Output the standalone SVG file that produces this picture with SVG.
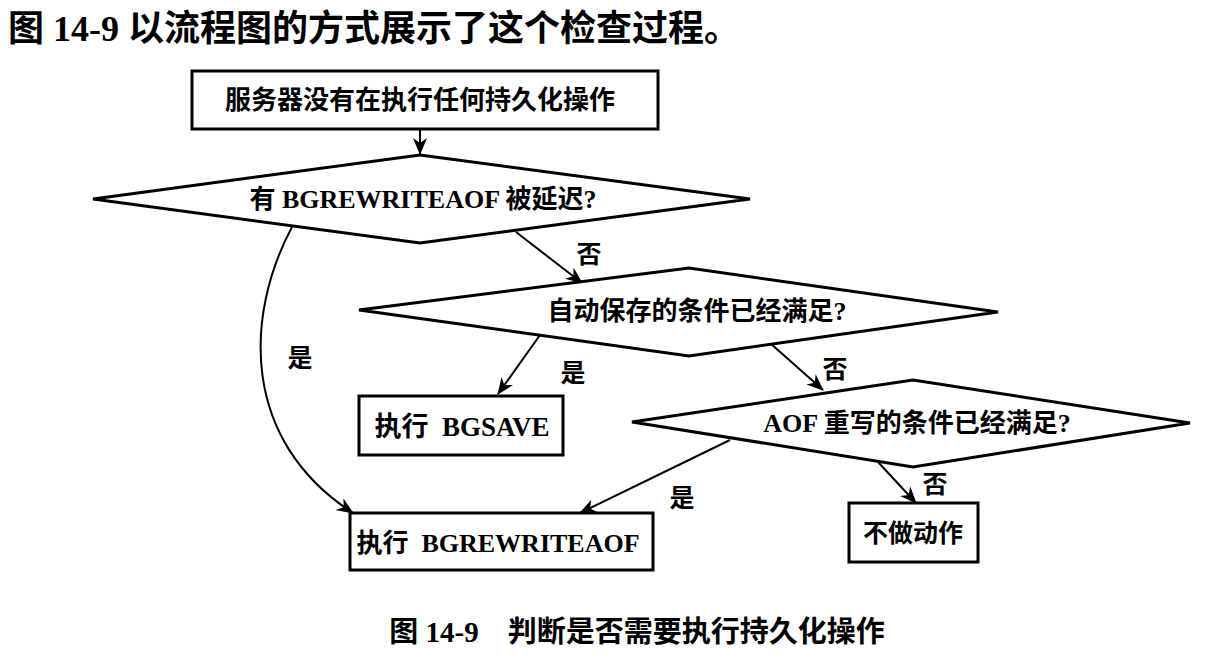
<svg xmlns="http://www.w3.org/2000/svg" width="1216" height="669" viewBox="0 0 1216 669">
<style>
.t{font-family:"Liberation Serif","Noto Sans CJK SC",serif;font-weight:bold;fill:#000;}
.box{fill:#fff;stroke:#000;stroke-width:3;}
.dia{fill:#fff;stroke:#000;stroke-width:3;stroke-linejoin:miter;}
.c{fill:none;stroke:#000;stroke-width:2;}
</style>
<defs>
<marker id="ah" markerUnits="userSpaceOnUse" markerWidth="18" markerHeight="14" refX="16" refY="7" orient="auto">
<path d="M0,0 L17,7 L0,14 L5,7 z" fill="#000"/>
</marker>
</defs>
<rect width="1216" height="669" fill="#fff"/>
<text class="t" x="8" y="41" font-size="36">图 14-9 以流程图的方式展示了这个检查过程。</text>

<g id="connectors">
<line class="c" x1="420" y1="128" x2="420" y2="154" marker-end="url(#ah)"/>
<line class="c" x1="516" y1="232" x2="582" y2="283" marker-end="url(#ah)"/>
<line class="c" x1="540" y1="335" x2="498" y2="394" marker-end="url(#ah)"/>
<line class="c" x1="770" y1="343" x2="823" y2="390" marker-end="url(#ah)"/>
<line class="c" x1="730" y1="440" x2="580" y2="513" marker-end="url(#ah)"/>
<line class="c" x1="878" y1="462" x2="916" y2="503" marker-end="url(#ah)"/>
<path class="c" d="M292,227 C245,315 240,440 353,513" marker-end="url(#ah)"/>
<text class="t" x="589" y="263" font-size="25" text-anchor="middle">否</text>
<text class="t" x="573" y="382" font-size="25" text-anchor="middle">是</text>
<text class="t" x="835" y="378" font-size="25" text-anchor="middle">否</text>
<text class="t" x="682" y="507" font-size="25" text-anchor="middle">是</text>
<text class="t" x="935" y="493" font-size="25" text-anchor="middle">否</text>
<text class="t" x="300" y="367" font-size="25" text-anchor="middle">是</text>
</g>

<g id="start">
<rect class="box" x="192" y="71" width="466" height="58"/>
<text class="t" x="420" y="109" font-size="26" text-anchor="middle">服务器没有在执行任何持久化操作</text>
</g>

<g id="d1">
<polygon class="dia" points="93,199 420,155 750,199 420,243"/>
<text class="t" x="423" y="208" font-size="26" text-anchor="middle">有 BGREWRITEAOF 被延迟?</text>
</g>

<g id="d2">
<polygon class="dia" points="359,310 689,268 998,312 689,356"/>
<text class="t" x="697" y="320" font-size="26" text-anchor="middle">自动保存的条件已经满足?</text>
</g>

<g id="bgsave">
<rect class="box" x="359" y="396" width="204" height="59"/>
<text class="t" x="462" y="436" font-size="27" text-anchor="middle" xml:space="preserve">执行  BGSAVE</text>
</g>

<g id="d3">
<polygon class="dia" points="632,422 913,380 1190,423 913,467"/>
<text class="t" x="917" y="432" font-size="26" text-anchor="middle">AOF 重写的条件已经满足?</text>
</g>

<g id="bgrewrite">
<rect class="box" x="350" y="513" width="303" height="57"/>
<text class="t" x="498" y="552" font-size="26" text-anchor="middle" xml:space="preserve">执行  BGREWRITEAOF</text>
</g>

<g id="noop">
<rect class="box" x="849" y="503" width="129" height="59"/>
<text class="t" x="913" y="542" font-size="25" text-anchor="middle">不做动作</text>
</g>

<text class="t" x="637" y="642" font-size="29" text-anchor="middle" xml:space="preserve">图 14-9　判断是否需要执行持久化操作</text>
</svg>
